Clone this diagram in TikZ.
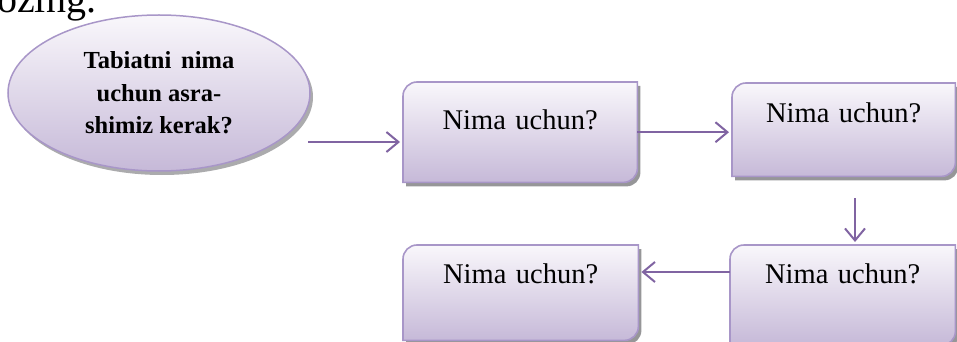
\documentclass[tikz,border=0pt]{standalone}
\usepackage{fontspec}
\setmainfont{Liberation Serif}
\usetikzlibrary{arrows.meta,shapes.geometric,shadows,backgrounds}
\definecolor{boxtop}{RGB}{249,247,251}
\definecolor{boxbot}{RGB}{198,185,216}
\definecolor{edgec}{RGB}{168,150,200}
\definecolor{arrc}{RGB}{128,100,162}
\definecolor{shadec}{RGB}{150,150,152}
\begin{document}
\begin{tikzpicture}[x=1pt,y=-1pt,
  qbox/.style={rectangle, inner sep=0pt, anchor=north west, align=center,
    font=\fontsize{28.5}{30}\selectfont},
  arr/.style={draw=arrc, line width=2pt, shorten >=3pt,
    -{Straight Barb[length=12pt,width=20pt]}},
  boxshape/.style={draw=edgec, line width=1.6pt, top color=boxtop, bottom color=boxbot},
  boxshadow/.style={fill=shadec}
]
\useasboundingbox (0,0) rectangle (957,342);

\node[anchor=base west, inner sep=0pt, font=\fontsize{40}{40}\selectfont] (prev) at (-3,13) {ozing.};

\node[ellipse, minimum width=302pt, minimum height=156pt, inner sep=0pt,
  draw=edgec, line width=1.5pt, top color=boxtop, bottom color=boxbot,
  drop shadow={shadow xshift=3pt, shadow yshift=-4pt, fill=shadec, opacity=0.8},
  align=center, font=\bfseries\fontsize{24.5}{32.5}\selectfont] (ell) at (159,93)
  {Tabiatni\hspace{0.4em}nima\\uchun asra-\\shimiz kerak?};

\node[qbox, text width=234pt, text height=47pt, text depth=53pt] (b1) at (403,82) {Nima uchun?};
\node[qbox, text width=223pt, text height=39pt, text depth=54pt] (b2) at (732,83) {Nima uchun?};
\node[qbox, text width=235pt, text height=38pt, text depth=57pt] (b3) at (403,245) {Nima uchun?};
\node[qbox, text width=225pt, text height=38pt, text depth=62pt] (b4) at (730,245) {Nima uchun?};

\begin{pgfonlayer}{background}
\foreach \n in {b1,b2,b3,b4}{
  \fill[boxshadow] ([shift={(3,4)}]\n.south west) [rounded corners=14pt] -- ([shift={(3,4)}]\n.north west)
    [sharp corners] -- ([shift={(3,4)}]\n.north east) [rounded corners=14pt] -- ([shift={(3,4)}]\n.south east)
    [sharp corners] -- cycle;
  \path[boxshape] (\n.south west) [rounded corners=14pt] -- (\n.north west)
    [sharp corners] -- (\n.north east) [rounded corners=14pt] -- (\n.south east)
    [sharp corners] -- cycle;
}
\end{pgfonlayer}

\coordinate (s1) at (308,142);
\coordinate (s3) at (855,198);
\coordinate (s4) at (737,272);
\draw[arr] (s1) -- (s1 -| b1.west);
\draw[arr] (b1.east) -- (b1.east -| b2.west);
\draw[arr] (s3) -- (s3 |- b4.north);
\draw[arr] (b4.west |- s4) -- (s4 -| b3.east);
\end{tikzpicture}
\end{document}
